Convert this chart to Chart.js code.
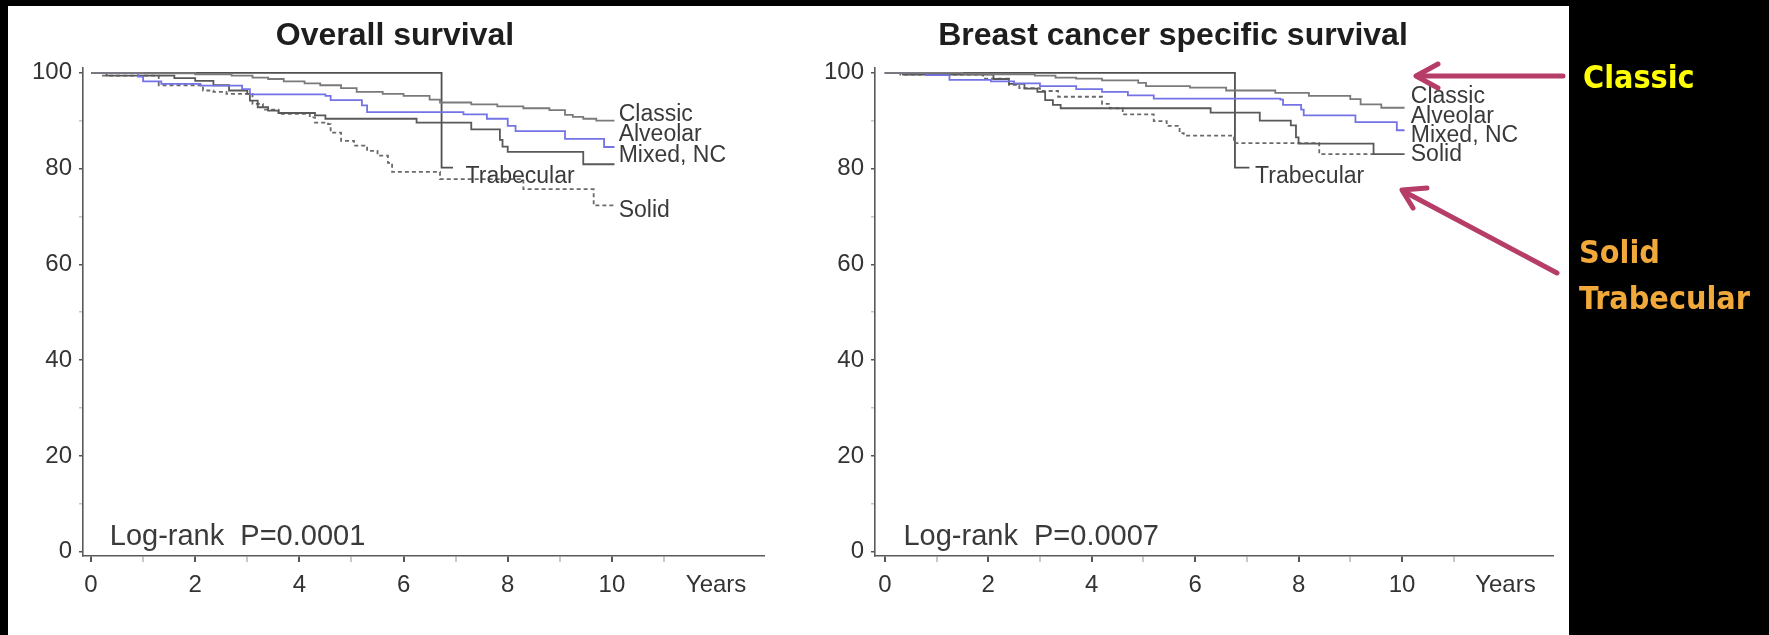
<!DOCTYPE html>
<html>
<head>
<meta charset="utf-8">
<script src="https://cdn.jsdelivr.net/npm/chart.js@4.4.1/dist/chart.umd.min.js"></script>
<style>
    html, body { margin: 0; padding: 0; background: #000; }
    body { width: 1769px; height: 635px; position: relative; overflow: hidden; }
    #panel { position: absolute; left: 8px; top: 6px; width: 1561px; height: 629px; background: #fff; }
    #wrapL { position: absolute; left: 0; top: 0; width: 790px; height: 635px; }
    #wrapR { position: absolute; left: 790px; top: 0; width: 779px; height: 635px; }
    #notes { position: absolute; left: 0; top: 0; }
</style>
</head>
<body>
<div id="panel"></div>
<div id="wrapL"><canvas id="osChart"></canvas></div>
<div id="wrapR"><canvas id="bcChart"></canvas></div>
<svg id="notes" width="1769" height="635">
    <g stroke="#b53d68" stroke-width="5" fill="none" stroke-linecap="round" stroke-linejoin="round">
        <line x1="1563" y1="76" x2="1417" y2="76"/>
        <polyline points="1438,64 1416,76 1438,88"/>
        <line x1="1557" y1="273" x2="1403" y2="191"/>
        <polyline points="1427,188 1402,190 1413,208"/>
    </g>
    <g font-family="'DejaVu Sans Condensed', 'DejaVu Sans', sans-serif" font-weight="bold" font-size="32">
        <text x="1583" y="88" fill="#ffff00">Classic</text>
        <text x="1579" y="263" fill="#f2a93b">Solid</text>
        <text x="1579" y="309" fill="#f2a93b">Trabecular</text>
    </g>
</svg>
<script>
// time in years, survival in %
const xTicks = [0, 1, 2, 3, 4, 5, 6, 7, 8, 9, 10, 11, 12];
const yTicks = [0, 10, 20, 30, 40, 50, 60, 70, 80, 90, 100];

// Overall survival
const osClassic = [[0,100],[1.0,99.9],[2.0,99.7],[2.7,99.4],[3.1,99.0],[3.4,98.7],[3.7,98.2],[4.1,97.8],[4.4,97.4],[4.8,96.8],[5.1,96.0],[5.6,95.6],[6.0,95.2],[6.5,94.4],[6.7,93.8],[7.3,93.4],[7.8,93.0],[8.3,92.6],[8.8,92.2],[9.1,91.2],[9.25,90.8],[9.45,90.4],[9.7,90.0],[10.05,90.0]];
const osAlveolar = [[0,100],[0.9,99.2],[1.0,98.2],[1.35,97.7],[2.1,97.3],[2.9,96.6],[3.05,95.5],[4.5,95.2],[4.6,94.3],[5.2,93.2],[5.3,91.8],[7.15,91.3],[7.6,90.4],[8.0,88.9],[8.15,87.8],[9.1,86.2],[9.85,84.5],[10.05,84.5]];
const osMixed = [[0,100],[0.3,99.4],[1.6,98.9],[2.0,98.3],[2.35,97.4],[2.65,96.3],[3.0,95.6],[3.05,94.2],[3.2,92.8],[3.4,92.1],[3.6,91.6],[4.3,91.1],[4.5,90.4],[6.25,89.6],[7.3,88.2],[7.85,86.0],[7.9,84.6],[8.0,83.5],[9.45,80.9],[10.05,80.9]];
const osSolid = [[0,100],[0.2,99.4],[1.3,97.4],[2.15,96.3],[2.35,96.0],[2.6,95.6],[3.1,93.5],[3.3,92.3],[3.6,91.4],[4.2,90.7],[4.3,89.6],[4.55,89.3],[4.6,87.5],[4.8,85.8],[5.05,84.8],[5.3,83.7],[5.5,82.7],[5.7,81.2],[5.78,79.3],[6.7,77.8],[8.3,75.7],[9.65,72.3],[10.05,72.3]];
const osTrabecular = [[0,100],[6.73,80.2],[6.95,80.2]];

// Breast cancer specific survival
const bcClassic = [[0,100],[1.5,99.8],[2.0,99.7],[2.9,99.4],[3.3,99.0],[3.7,98.8],[4.2,98.4],[4.9,97.9],[5.05,97.2],[5.9,96.9],[6.6,96.3],[7.55,95.8],[8.2,95.2],[9.0,94.5],[9.2,93.4],[9.6,92.7],[10.05,92.7]];
const bcAlveolar = [[0,100],[0.8,99.5],[1.25,98.5],[2.05,98.2],[2.5,97.8],[3.0,97.2],[3.7,96.6],[4.2,96.0],[4.7,95.3],[5.2,94.6],[7.65,94.4],[7.7,93.3],[8.05,92.3],[8.1,91.1],[9.1,89.7],[9.9,88.0],[10.05,88.0]];
const bcMixed = [[0,100],[0.35,99.6],[2.1,98.7],[2.4,97.7],[2.7,96.7],[2.95,96.0],[3.1,94.3],[3.25,93.3],[3.4,92.6],[6.3,91.7],[7.25,90.0],[7.85,89.0],[7.95,86.5],[8.0,85.2],[9.45,83.0],[10.05,83.0]];
const bcSolid = [[0,100],[0.3,99.6],[1.9,98.8],[2.4,97.5],[2.6,96.8],[3.0,96.2],[3.35,95.0],[4.2,93.5],[4.35,92.6],[4.6,91.3],[5.2,89.9],[5.45,88.9],[5.7,87.4],[5.78,86.9],[6.75,85.3],[8.4,83.0],[9.5,83.0]];
const bcTrabecular = [[0,100],[6.77,80.2],[7.05,80.2]];

// curve end labels: text, year, survival
const osLabels = [['Classic', 10.13, 91.2], ['Alveolar', 10.13, 87.0], ['Mixed, NC', 10.13, 82.8], ['Trabecular', 7.19, 78.4], ['Solid', 10.13, 71.2]];
const bcLabels = [['Classic', 10.17, 95.1], ['Alveolar', 10.17, 90.9], ['Mixed, NC', 10.17, 86.8], ['Solid', 10.17, 82.9], ['Trabecular', 7.16, 78.4]];

const FONT = '"Liberation Sans", Arial, sans-serif';

const kmText = {
    id: 'kmText',
    afterDatasetsDraw(chart, args, opts) {
        const { ctx, scales: { x, y } } = chart;
        ctx.save();
        ctx.fillStyle = '#1e1e1e';
        ctx.font = 'bold 32px ' + FONT;
        ctx.textAlign = 'center';
        ctx.textBaseline = 'middle';
        ctx.fillText(opts.title, opts.titleX, 36);

        ctx.fillStyle = '#3a3a3a';
        ctx.textAlign = 'left';
        ctx.font = '23px ' + FONT;
        opts.labels.forEach(([text, xv, yv]) => {
            ctx.fillText(text, x.getPixelForValue(xv), y.getPixelForValue(yv));
        });

        ctx.font = '29px ' + FONT;
        ctx.fillText(opts.pText, x.getPixelForValue(0.36), y.getPixelForValue(3));
        ctx.restore();
    }
};

const toXY = (pts) => pts.map(([t, s]) => ({ x: t, y: s }));

const makeSet = (pts, color, dashed) => ({
    data: toXY(pts),
    borderColor: color,
    borderWidth: 1.8,
    borderDash: dashed ? [4, 3] : [],
    stepped: 'before',
    pointRadius: 0,
    fill: false
});

function buildChart(id, series, cfg) {
    new Chart(document.getElementById(id), {
        type: 'line',
        data: {
            datasets: [
                makeSet(series[0], '#7a7a7a', false),
                makeSet(series[1], '#7373e6', false),
                makeSet(series[2], '#595959', false),
                makeSet(series[3], '#6a6a6a', true),
                makeSet(series[4], '#505050', false)
            ]
        },
        options: {
            responsive: true,
            maintainAspectRatio: false,
            animation: false,
            layout: { padding: { left: 0, top: 68, right: cfg.padRight, bottom: 0 } },
            plugins: {
                legend: { display: false },
                tooltip: { enabled: false },
                kmText: { title: cfg.title, titleX: cfg.titleX, labels: cfg.labels, pText: cfg.pText }
            },
            scales: {
                x: {
                    type: 'linear',
                    min: cfg.xMin,
                    max: 12.92,
                    afterBuildTicks: (s) => { s.ticks = xTicks.map(v => ({ value: v })); },
                    afterFit: (s) => { s.height = 79; },
                    ticks: {
                        autoSkip: false,
                        maxRotation: 0,
                        padding: 9,
                        color: '#333',
                        font: { family: FONT, size: 24 },
                        callback: (v) => v === 12 ? 'Years' : (v % 2 === 0 ? v : '')
                    },
                    grid: {
                        drawOnChartArea: false,
                        drawTicks: true,
                        tickLength: 6,
                        lineWidth: 2,
                        color: (c) => c.tick && c.tick.value === 12 ? 'rgba(0,0,0,0)' : (c.tick && c.tick.value % 2 ? '#c8c8c8' : '#555')
                    },
                    border: { display: true, color: '#5a5a5a', width: 1.6 }
                },
                y: {
                    type: 'linear',
                    min: -0.9,
                    max: 101,
                    afterBuildTicks: (s) => { s.ticks = yTicks.map(v => ({ value: v })); },
                    afterFit: (s) => { s.width = cfg.yWidth; },
                    ticks: {
                        autoSkip: false,
                        padding: 7,
                        color: '#333',
                        font: { family: FONT, size: 24 },
                        callback: (v) => v % 20 === 0 ? v : ''
                    },
                    grid: {
                        drawOnChartArea: false,
                        drawTicks: true,
                        tickLength: 4,
                        lineWidth: 1.5,
                        color: (c) => c.tick && c.tick.value % 20 ? '#c8c8c8' : '#555'
                    },
                    border: { display: true, color: '#5a5a5a', width: 1.6 }
                }
            }
        },
        plugins: [kmText]
    });
}

buildChart('osChart', [osClassic, osAlveolar, osMixed, osSolid, osTrabecular], {
    title: 'Overall survival', titleX: 395, labels: osLabels, pText: 'Log-rank  P=0.0001',
    xMin: -0.154, yWidth: 83, padRight: 26
});

buildChart('bcChart', [bcClassic, bcAlveolar, bcMixed, bcSolid, bcTrabecular], {
    title: 'Breast cancer specific survival', titleX: 383, labels: bcLabels, pText: 'Log-rank  P=0.0007',
    xMin: -0.19, yWidth: 85, padRight: 16
});
</script>
</body>
</html>
